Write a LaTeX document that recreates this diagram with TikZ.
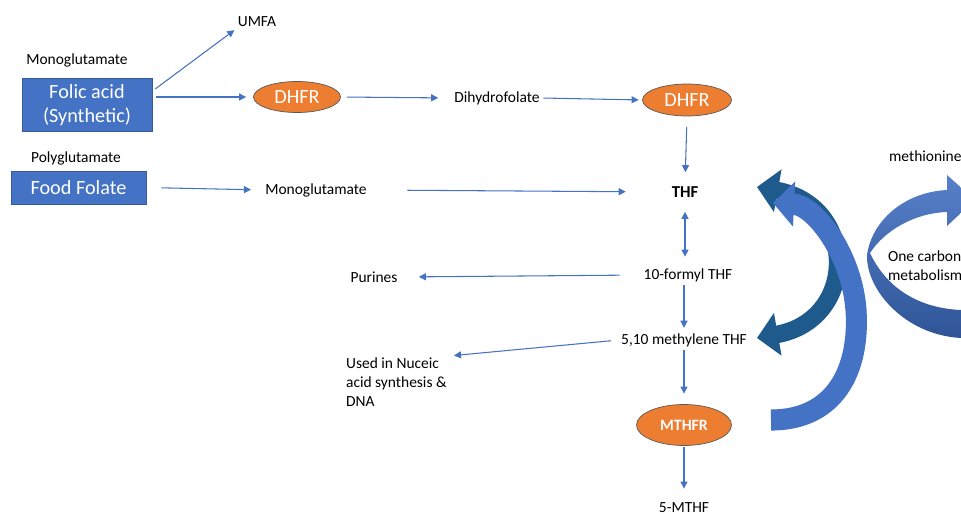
\documentclass[tikz,border=0pt]{standalone}
\usepackage{fontspec}
\setmainfont{Carlito}
\usetikzlibrary{arrows.meta,shapes.geometric}
\definecolor{boxblue}{HTML}{4472C4}
\definecolor{enzorange}{HTML}{ED7D31}
\definecolor{cycleblue}{HTML}{1F5A8C}
\definecolor{cycledark}{HTML}{2F5597}
\tikzset{
  lbl/.style={inner sep=1pt, font=\fontsize{8.8}{10.8}\selectfont},
  srcbox/.style={fill=boxblue, draw=boxblue!80!black, line width=0.4pt, text=white, align=center, font=\fontsize{11.5}{13.6}\selectfont},
  enz/.style={ellipse, fill=enzorange, draw=gray!70!black, line width=0.4pt, text=white, inner sep=0pt, font=\fontsize{11.5}{13}\selectfont},
  arr/.style={draw=boxblue, line width=0.6pt, -{Triangle[length=4pt,width=4pt]}},
}
\begin{document}
\begin{tikzpicture}[x=0.02cm, y=-0.02cm]
  \clip (0,0) rectangle (961,514);
  % sources and enzymes
  \node[lbl] (umfa) at (257,22) {UMFA};
  \node[lbl] (monoa) at (77,60) {Monoglutamate};
  \node[srcbox, minimum width=2.6cm, minimum height=0.96cm] (folic) at (87,105) {Folic acid\\(Synthetic)};
  \node[enz, minimum width=1.74cm, minimum height=0.62cm] (dhfra) at (297,97) {DHFR};
  \node[lbl] (dihydro) at (497,98) {Dihydrofolate};
  \node[enz, minimum width=1.78cm, minimum height=0.64cm] (dhfrb) at (687,100) {DHFR};
  \node[lbl, font=\bfseries\fontsize{9.5}{11}\selectfont] (thf) at (685,192) {THF};
  \node[lbl] (poly) at (76,158) {Polyglutamate};
  \node[srcbox, minimum width=2.7cm, minimum height=0.66cm] (food) at (78.5,187.5) {Food Folate};
  \node[lbl] (monob) at (316,190) {Monoglutamate};
  \node[lbl] (formyl) at (688,275) {10-formyl THF};
  \node[lbl] (purines) at (374,277) {Purines};
  \node[lbl] (methylene) at (684,340) {5,10 methylene THF};
  \node[lbl, align=left, anchor=north west] (nucleic) at (344,356) {Used in Nuceic\\acid synthesis \&\\DNA};
  \node[enz, minimum width=1.9cm, minimum height=0.82cm, font=\bfseries\fontsize{9}{11}\selectfont] (mthfr) at (684,425) {MTHFR};
  \node[lbl] (mthf) at (684,508) {5-MTHF};
  \node[lbl, anchor=west] (methionine) at (887,156) {methionine};
  \node[lbl, align=left, anchor=west] (onecarbon) at (886,266) {One carbon\\metabolism};

  % thin arrows
  \draw[arr, shorten <=2pt, shorten >=1pt] (folic.12) -- (umfa.south west);
  \draw[arr, shorten <=2pt, shorten >=4pt] (folic.east |- dhfra.west) -- (dhfra.west);
  \draw[arr, shorten <=3.5pt, shorten >=8pt] (dhfra.east) -- (dihydro.west);
  \draw[arr, shorten <=1pt, shorten >=2pt] (dihydro.east) -- (dhfrb.west);
  \draw[arr, shorten <=6pt, shorten >=7pt] (dhfrb.south) -- (thf.north);
  \draw[arr, shorten <=8.5pt, shorten >=7pt] (food.east) -- (monob.west);
  \draw[arr, shorten <=22pt, shorten >=25pt] (monob.east) -- (thf.west);
  \draw[arr, {Triangle[length=4pt,width=4pt]}-{Triangle[length=4pt,width=4pt]}, shorten <=7pt, shorten >=5.5pt] (thf.south) -- (thf.south |- formyl.north);
  \draw[arr, shorten <=12.5pt, shorten >=11pt] (formyl.west) -- (purines.east);
  \draw[arr, shorten <=1pt, shorten >=2pt] (methylene.north |- formyl.south) -- (methylene.north);
  \draw[arr, shorten <=4.5pt, shorten >=3pt] (methylene.west) -- (nucleic.north east);
  \draw[arr, shorten <=0.5pt, shorten >=6pt] (methylene.south) -- (mthfr.north);
  \draw[arr, shorten <=0.5pt, shorten >=7pt] (mthfr.south) -- (mthf.north);

  % cycle arrows
  \draw[line width=10pt, cycleblue, {Triangle[length=12pt,width=24pt]}-{Triangle[length=12pt,width=24pt]}]
    (757,187) .. controls (858,205) and (858,320) .. (757,338);
  \draw[line width=12pt, boxblue, -{Triangle[length=12pt,width=25pt]}]
    (771,420) .. controls (835,420) and (860,370) .. (856,310)
    .. controls (852,255) and (815,205) .. (773,203);
  \shade[top color=boxblue!90!white, bottom color=cycledark]
    (947,190) .. controls (905,192) and (872,220) .. (867,255)
    .. controls (866,290) and (905,335) .. (961,338) -- (961,310)
    .. controls (915,308) and (885,285) .. (870,253)
    .. controls (885,230) and (915,213) .. (947,212)
    -- (947,226) -- (975,200) -- (947,175) -- cycle;
\end{tikzpicture}
\end{document}
